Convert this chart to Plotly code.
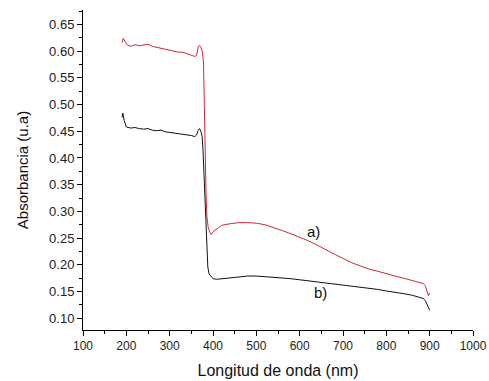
import plotly.graph_objects as go

wl_a = [190, 193, 197, 203, 210, 220, 230, 240, 250, 260, 270, 280, 290, 300, 310, 320, 330, 340, 350, 358,
        362, 366, 369, 372, 375, 378, 380, 382, 384, 386, 389, 393, 396, 400, 410, 420, 440, 460, 480, 500,
        520, 540, 560, 580, 600, 620, 640, 660, 680, 700, 720, 740, 760, 780, 800, 820, 840, 860, 875, 885,
        890, 894, 897, 900]
abs_a = [0.616, 0.624, 0.618, 0.611, 0.609, 0.612, 0.610, 0.612, 0.613, 0.609, 0.607, 0.605, 0.604, 0.602, 0.600, 0.598, 0.598, 0.595, 0.593, 0.590,
         0.592, 0.608, 0.611, 0.607, 0.600, 0.580, 0.500, 0.400, 0.330, 0.290, 0.270, 0.260, 0.257, 0.262, 0.268, 0.274, 0.277, 0.279, 0.279, 0.278,
         0.275, 0.270, 0.264, 0.258, 0.252, 0.245, 0.237, 0.228, 0.220, 0.212, 0.204, 0.198, 0.192, 0.188, 0.183, 0.179, 0.175, 0.171, 0.168, 0.165,
         0.161, 0.152, 0.142, 0.147]

wl_b = [190, 192, 195, 200, 210, 220, 230, 240, 250, 260, 270, 280, 290, 300, 310, 320, 330, 340, 350, 358,
        362, 366, 369, 372, 375, 377, 379, 381, 383, 385, 388, 391, 396, 400, 410, 420, 440, 460, 480, 500,
        520, 540, 560, 580, 600, 620, 640, 660, 680, 700, 720, 740, 760, 780, 800, 820, 840, 860, 875, 885,
        890, 894, 897, 900]
abs_b = [0.476, 0.484, 0.470, 0.458, 0.456, 0.457, 0.455, 0.454, 0.455, 0.452, 0.451, 0.452, 0.449, 0.448, 0.446, 0.446, 0.444, 0.443, 0.442, 0.440,
         0.443, 0.452, 0.455, 0.450, 0.440, 0.414, 0.370, 0.320, 0.280, 0.246, 0.196, 0.183, 0.177, 0.174, 0.173, 0.174, 0.176, 0.178, 0.179, 0.179,
         0.178, 0.176, 0.175, 0.174, 0.172, 0.170, 0.169, 0.167, 0.165, 0.163, 0.160, 0.158, 0.156, 0.154, 0.151, 0.149, 0.146, 0.143, 0.140, 0.137,
         0.133, 0.126, 0.119, 0.115]

labels = ["a)", "b)"]
label_x = [632, 648]
label_y = [0.262, 0.149]

FONT = "Liberation Sans, Arial"

fig = go.Figure()
fig.add_trace(go.Scatter(x=wl_a, y=abs_a, mode="lines", line=dict(color="#cc2b36", width=1), name="a)"))
fig.add_trace(go.Scatter(x=wl_b, y=abs_b, mode="lines", line=dict(color="#111111", width=1), name="b)"))

for t, x, y in zip(labels, label_x, label_y):
    fig.add_annotation(x=x, y=y, text=t, showarrow=False,
                       font=dict(family=FONT, size=15, color="#111"))

axis_common = dict(showgrid=False, zeroline=False, showline=True, linecolor="black", linewidth=1,
                   ticks="outside", ticklen=5, tickwidth=1, tickcolor="black", mirror=False,
                   automargin=False)

fig.update_layout(
    width=489, height=381,
    margin=dict(l=83, r=16, t=10, b=51),
    plot_bgcolor="white", paper_bgcolor="white",
    showlegend=False,
    xaxis=dict(range=[100, 1000], dtick=100, tick0=100,
               tickfont=dict(family=FONT, size=12, color="#222"),
               minor=dict(dtick=50, ticklen=3, ticks="outside", tickcolor="black"),
               title=dict(text="Longitud de onda (nm)", font=dict(family=FONT, size=16, color="#111"), standoff=12),
               **axis_common),
    yaxis=dict(range=[0.078, 0.677], dtick=0.05, tick0=0.1, tickformat=".2f",
               tickfont=dict(family=FONT, size=13, color="#222"),
               minor=dict(dtick=0.025, ticklen=3, ticks="outside", tickcolor="black"),
               title=dict(text="Absorbancia (u.a)", font=dict(family=FONT, size=15, color="#111"), standoff=16),
               **axis_common),
)

fig.write_html("out.html")
